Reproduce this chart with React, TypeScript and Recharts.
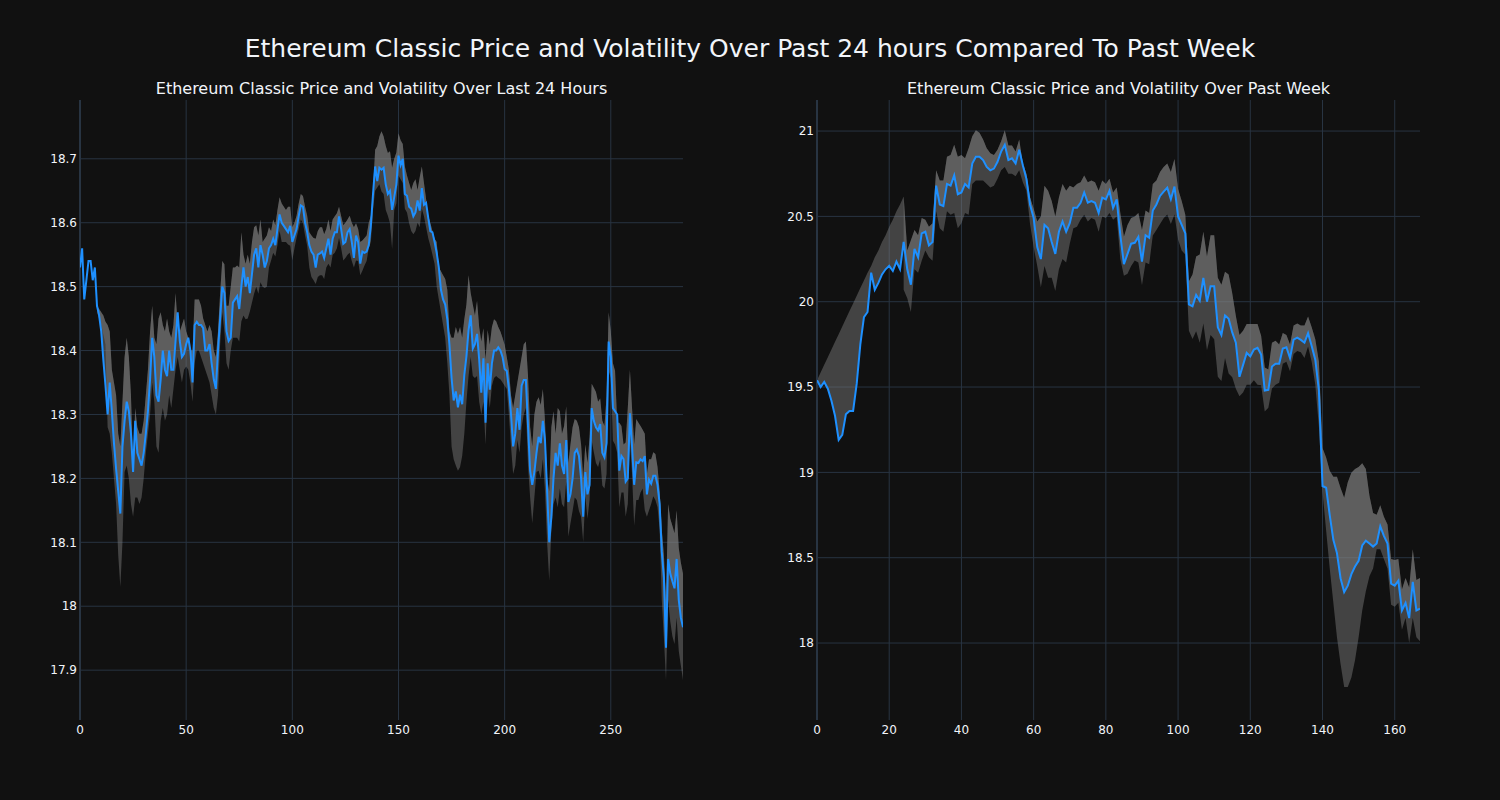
import { Area, CartesianGrid, ComposedChart, Line, ReferenceLine, XAxis, YAxis } from "recharts";

// last 24 hours, one point every 5 minutes
const dayPrice = [
  18.53, 18.56, 18.48, 18.51, 18.54, 18.54, 18.51, 18.53, 18.47, 18.455,
  18.43, 18.385, 18.345, 18.3, 18.35, 18.305, 18.255, 18.215, 18.18, 18.145,
  18.25, 18.29, 18.32, 18.305, 18.27, 18.21, 18.29, 18.24, 18.23, 18.22,
  18.24, 18.27, 18.305, 18.355, 18.42, 18.39, 18.33, 18.32, 18.355, 18.4,
  18.37, 18.36, 18.4, 18.37, 18.37, 18.415, 18.46, 18.415, 18.39, 18.395,
  18.41, 18.42, 18.4, 18.35, 18.44, 18.445, 18.44, 18.44, 18.435, 18.4,
  18.4, 18.41, 18.38, 18.355, 18.34, 18.4, 18.45, 18.5, 18.49, 18.43,
  18.415, 18.42, 18.475, 18.48, 18.485, 18.465, 18.5, 18.53, 18.5, 18.515,
  18.49, 18.52, 18.55, 18.56, 18.53, 18.565, 18.55, 18.53, 18.54, 18.56,
  18.565, 18.575, 18.565, 18.59, 18.613, 18.6, 18.595, 18.59, 18.585, 18.595,
  18.57, 18.58, 18.59, 18.61, 18.627, 18.625, 18.6, 18.585, 18.565, 18.555,
  18.55, 18.53, 18.55, 18.552, 18.555, 18.545, 18.56, 18.575, 18.55, 18.575,
  18.585, 18.585, 18.61, 18.59, 18.567, 18.57, 18.585, 18.59, 18.57, 18.545,
  18.58, 18.57, 18.536, 18.555, 18.553, 18.555, 18.565, 18.596, 18.645, 18.688,
  18.665, 18.686, 18.683, 18.686, 18.66, 18.645, 18.65, 18.62, 18.64, 18.66,
  18.705, 18.69, 18.7, 18.645, 18.642, 18.625, 18.622, 18.61, 18.616, 18.635,
  18.619, 18.654, 18.628, 18.631, 18.608, 18.587, 18.585, 18.57, 18.553, 18.53,
  18.495, 18.48, 18.472, 18.449, 18.409, 18.357, 18.322, 18.336, 18.311, 18.331,
  18.316, 18.362, 18.391, 18.432, 18.455, 18.403, 18.41, 18.426, 18.386, 18.334,
  18.388, 18.287, 18.38, 18.339, 18.38, 18.4, 18.4, 18.405, 18.4, 18.39,
  18.371, 18.368, 18.34, 18.3, 18.25, 18.27, 18.31, 18.276, 18.345, 18.354,
  18.354, 18.282, 18.212, 18.19, 18.21, 18.24, 18.265, 18.255, 18.29, 18.26,
  18.18, 18.1, 18.14, 18.2, 18.24, 18.22, 18.255, 18.22, 18.207, 18.26,
  18.163, 18.175, 18.2, 18.24, 18.245, 18.235, 18.2, 18.14, 18.21, 18.175,
  18.19, 18.31, 18.29, 18.28, 18.275, 18.285, 18.24, 18.233, 18.255, 18.414,
  18.39, 18.31, 18.305, 18.3, 18.212, 18.235, 18.23, 18.195, 18.2, 18.302,
  18.25, 18.19, 18.225, 18.224, 18.23, 18.227, 18.235, 18.175, 18.198, 18.192,
  18.204, 18.204, 18.19, 18.16, 18.085, 18.045, 17.935, 18.074, 18.051, 18.039,
  18.028, 18.074, 18.01, 17.982, 17.967,
];

// volatility band, first value at index DAY_BAND_START
const DAY_BAND_START = 8;
const dayUpper = [
  18.47, 18.465,
  18.46, 18.455, 18.445, 18.44, 18.43, 18.37, 18.35, 18.33, 18.27, 18.25,
  18.32, 18.39, 18.42, 18.39, 18.33, 18.22, 18.31, 18.28, 18.27, 18.27,
  18.29, 18.33, 18.37, 18.43, 18.47, 18.42, 18.41, 18.45, 18.46, 18.44,
  18.43, 18.45, 18.43, 18.42, 18.44, 18.49, 18.44, 18.43, 18.44, 18.45,
  18.43, 18.42, 18.4, 18.4, 18.48, 18.48, 18.48, 18.47, 18.45, 18.44,
  18.43, 18.44, 18.43, 18.4, 18.39, 18.43, 18.49, 18.54, 18.535, 18.47,
  18.47, 18.5, 18.53, 18.53, 18.533, 18.53, 18.585, 18.55, 18.536, 18.55,
  18.536, 18.57, 18.593, 18.596, 18.58, 18.605, 18.57, 18.575, 18.58, 18.593,
  18.587, 18.605, 18.596, 18.62, 18.64, 18.63, 18.625, 18.62, 18.625, 18.625,
  18.593, 18.6, 18.611, 18.63, 18.645, 18.642, 18.625, 18.611, 18.585, 18.58,
  18.576, 18.575, 18.587, 18.593, 18.593, 18.582, 18.59, 18.605, 18.587, 18.605,
  18.61, 18.615, 18.625, 18.61, 18.596, 18.6, 18.605, 18.611, 18.6, 18.593,
  18.599, 18.59, 18.57, 18.572, 18.576, 18.58, 18.6, 18.611, 18.65, 18.714,
  18.72, 18.735, 18.743, 18.735, 18.72, 18.709, 18.712, 18.686, 18.7, 18.71,
  18.74, 18.729, 18.723, 18.688, 18.674, 18.662, 18.651, 18.662, 18.668, 18.651,
  18.671, 18.688, 18.662, 18.637, 18.611, 18.599, 18.587, 18.575, 18.57, 18.53,
  18.524, 18.518, 18.512, 18.495, 18.43, 18.42, 18.42, 18.437, 18.426, 18.437,
  18.42, 18.449, 18.472, 18.518, 18.49, 18.472, 18.455, 18.478, 18.437, 18.414,
  18.435, 18.386, 18.432, 18.409, 18.437, 18.449, 18.446, 18.437, 18.43, 18.42,
  18.409, 18.39, 18.37, 18.33, 18.31, 18.33, 18.35, 18.37, 18.39, 18.41,
  18.414, 18.36, 18.28, 18.25, 18.3, 18.32, 18.327, 18.315, 18.34, 18.29,
  18.2, 18.18, 18.28, 18.305, 18.27, 18.31, 18.305, 18.27, 18.282, 18.313,
  18.224, 18.253, 18.28, 18.293, 18.29, 18.28, 18.253, 18.2, 18.253, 18.224,
  18.264, 18.348, 18.342, 18.335, 18.32, 18.325, 18.29, 18.282, 18.328, 18.46,
  18.43, 18.38, 18.368, 18.287, 18.287, 18.282, 18.253, 18.256, 18.31, 18.37,
  18.31, 18.253, 18.293, 18.287, 18.282, 18.276, 18.27, 18.207, 18.23, 18.23,
  18.241, 18.238, 18.218, 18.18, 18.12, 18.08, 18.01, 18.16, 18.137, 18.126,
  18.114, 18.15, 18.091, 18.068, 18.051,
];
const dayLower = [
  18.46, 18.45,
  18.44, 18.425, 18.41, 18.28, 18.27, 18.24, 18.2, 18.16, 18.08, 18.03,
  18.1, 18.21, 18.22, 18.2, 18.16, 18.14, 18.17, 18.17, 18.16, 18.17,
  18.2, 18.24, 18.27, 18.3, 18.35, 18.32, 18.25, 18.24, 18.29, 18.31,
  18.29, 18.3, 18.33, 18.31, 18.34, 18.37, 18.39, 18.37, 18.35, 18.37,
  18.375, 18.37, 18.35, 18.32, 18.38, 18.4, 18.4, 18.39, 18.38, 18.37,
  18.36, 18.35, 18.33, 18.31, 18.3, 18.33, 18.41, 18.46, 18.43, 18.38,
  18.37, 18.4, 18.42, 18.42, 18.42, 18.414, 18.446, 18.455, 18.449, 18.45,
  18.461, 18.475, 18.489, 18.5, 18.489, 18.507, 18.5, 18.498, 18.5, 18.53,
  18.541, 18.553, 18.547, 18.565, 18.587, 18.57, 18.57, 18.57, 18.566, 18.564,
  18.541, 18.56, 18.576, 18.59, 18.605, 18.599, 18.58, 18.564, 18.53, 18.515,
  18.51, 18.504, 18.515, 18.518, 18.518, 18.512, 18.53, 18.536, 18.53, 18.55,
  18.553, 18.56, 18.576, 18.56, 18.541, 18.545, 18.55, 18.553, 18.54, 18.53,
  18.541, 18.54, 18.518, 18.525, 18.533, 18.54, 18.56, 18.57, 18.62, 18.65,
  18.655, 18.66, 18.649, 18.645, 18.62, 18.611, 18.599, 18.559, 18.62, 18.63,
  18.674, 18.668, 18.662, 18.622, 18.616, 18.599, 18.587, 18.582, 18.587, 18.6,
  18.593, 18.622, 18.61, 18.593, 18.576, 18.564, 18.55, 18.536, 18.5, 18.48,
  18.46, 18.44, 18.42, 18.38, 18.33, 18.25, 18.23, 18.22, 18.212, 18.218,
  18.235, 18.27, 18.32, 18.36, 18.39, 18.36, 18.357, 18.36, 18.32, 18.3,
  18.32, 18.253, 18.34, 18.31, 18.345, 18.357, 18.36, 18.357, 18.355, 18.35,
  18.345, 18.34, 18.3, 18.25, 18.207, 18.22, 18.26, 18.24, 18.28, 18.3,
  18.31, 18.22, 18.17, 18.13, 18.17, 18.21, 18.212, 18.2, 18.23, 18.18,
  18.1, 18.04, 18.12, 18.16, 18.17, 18.155, 18.184, 18.16, 18.155, 18.195,
  18.109, 18.13, 18.149, 18.17, 18.166, 18.149, 18.14, 18.1, 18.172, 18.137,
  18.166, 18.259, 18.241, 18.224, 18.218, 18.23, 18.189, 18.184, 18.207, 18.368,
  18.357, 18.259, 18.253, 18.24, 18.155, 18.178, 18.178, 18.14, 18.16, 18.259,
  18.207, 18.126, 18.166, 18.166, 18.178, 18.184, 18.15, 18.14, 18.15, 18.16,
  18.172, 18.166, 18.155, 18.12, 18.01, 17.95, 17.884, 18.01, 17.976, 17.953,
  17.941, 17.982, 17.93, 17.907, 17.884,
];

// past week, hourly
const weekPrice = [
  19.54, 19.5, 19.53, 19.49, 19.42, 19.33, 19.19, 19.22, 19.34, 19.36,
  19.36, 19.52, 19.75, 19.91, 19.94, 20.17, 20.07, 20.11, 20.16, 20.19,
  20.21, 20.18, 20.235, 20.19, 20.35, 20.19, 20.1, 20.31, 20.26, 20.4,
  20.41, 20.33, 20.35, 20.68, 20.57, 20.56, 20.69, 20.68, 20.74, 20.63,
  20.64, 20.69, 20.67, 20.81, 20.85, 20.85, 20.83, 20.79, 20.77, 20.78,
  20.82, 20.88, 20.92, 20.83, 20.84, 20.81, 20.89, 20.8, 20.72, 20.57,
  20.49, 20.32, 20.25, 20.45, 20.43, 20.35, 20.28, 20.41, 20.47, 20.41,
  20.46, 20.55, 20.55, 20.58, 20.64, 20.58, 20.59, 20.58, 20.52, 20.61,
  20.6, 20.65, 20.55, 20.6, 20.39, 20.22, 20.28, 20.34, 20.345, 20.38,
  20.235, 20.39, 20.375, 20.534, 20.57, 20.62, 20.645, 20.668, 20.6, 20.675,
  20.5, 20.45, 20.4, 19.985, 19.973, 20.04, 20.006, 20.14, 20.0, 20.09,
  20.09, 19.85, 19.805, 19.92, 19.9, 19.82, 19.76, 19.56, 19.63, 19.7,
  19.68, 19.72, 19.73, 19.69, 19.48, 19.484, 19.62, 19.637, 19.637, 19.726,
  19.733, 19.67, 19.778, 19.789, 19.776, 19.76, 19.816, 19.74, 19.66, 19.48,
  18.92, 18.91, 18.75, 18.605, 18.527, 18.38, 18.298, 18.336, 18.404, 18.448,
  18.482, 18.572, 18.6, 18.583, 18.565, 18.583, 18.684, 18.628, 18.583, 18.348,
  18.336, 18.365, 18.191, 18.235, 18.146, 18.359, 18.191, 18.202,
];

// top edge of the shading before the weekly band starts
const weekWarmupEdge = [
  19.54, 19.585, 19.63, 19.675, 19.72, 19.765, 19.81, 19.855, 19.9, 19.945,
  19.99, 20.035, 20.08, 20.125, 20.17, 20.21, 20.26, 20.3, 20.35, 20.39,
  20.44, 20.48, 20.53, 20.57,
];

const WEEK_BAND_START = 24;
const weekUpper = [
  20.617, 20.3, 20.36, 20.42, 20.39, 20.49,
  20.48, 20.44, 20.46, 20.77, 20.71, 20.71, 20.85, 20.86, 20.92, 20.85,
  20.86, 20.84, 20.9, 20.97, 21.005, 20.99, 20.95, 20.9, 20.87, 20.86,
  20.89, 20.94, 21.005, 20.915, 20.915, 20.88, 20.95, 20.81, 20.75, 20.61,
  20.545, 20.47, 20.5, 20.68, 20.65, 20.59, 20.5, 20.61, 20.69, 20.65,
  20.68, 20.67, 20.69, 20.7, 20.74, 20.7, 20.71, 20.7, 20.65, 20.71,
  20.69, 20.72, 20.64, 20.67, 20.52, 20.38, 20.45, 20.49, 20.5, 20.52,
  20.42, 20.534, 20.52, 20.69, 20.71, 20.76, 20.79, 20.81, 20.76, 20.836,
  20.66, 20.59, 20.51, 20.12, 20.16, 20.265, 20.276, 20.41, 20.265, 20.39,
  20.39, 20.14, 20.1, 20.175, 20.16, 20.05, 19.917, 19.805, 19.83, 19.87,
  19.87, 19.87, 19.87, 19.8, 19.614, 19.603, 19.76, 19.771, 19.749, 19.816,
  19.805, 19.749, 19.861, 19.872, 19.861, 19.861, 19.913, 19.85, 19.78, 19.648,
  19.143, 19.087, 19.009, 18.975, 18.975, 18.908, 18.852, 18.942, 18.998, 19.02,
  19.031, 19.054, 19.02, 18.863, 18.762, 18.751, 18.807, 18.74, 18.695, 18.493,
  18.487, 18.493, 18.314, 18.381, 18.325, 18.549, 18.37, 18.381,
];
const weekLower = [
  20.07, 20.02, 19.94, 20.19, 20.17, 20.24,
  20.3, 20.26, 20.24, 20.53, 20.43, 20.41, 20.53, 20.51, 20.52, 20.43,
  20.46, 20.52, 20.51, 20.69, 20.71, 20.71, 20.71, 20.69, 20.67, 20.68,
  20.72, 20.77, 20.79, 20.75, 20.75, 20.735, 20.77, 20.7, 20.65, 20.455,
  20.32, 20.21, 20.085, 20.21, 20.14, 20.14, 20.063, 20.19, 20.25, 20.23,
  20.34, 20.43, 20.44, 20.48, 20.51, 20.47, 20.49, 20.48, 20.41, 20.5,
  20.49, 20.52, 20.48, 20.5, 20.25, 20.152, 20.164, 20.209, 20.242, 20.23,
  20.096, 20.23, 20.22, 20.388, 20.42, 20.455, 20.489, 20.511, 20.455, 20.511,
  20.365, 20.3, 20.276, 19.83, 19.782, 19.827, 19.76, 19.872, 19.715, 19.805,
  19.78, 19.56, 19.536, 19.67, 19.58, 19.558, 19.49, 19.446, 19.468, 19.513,
  19.513, 19.54, 19.513, 19.51, 19.357, 19.379, 19.491, 19.513, 19.525, 19.637,
  19.648, 19.592, 19.693, 19.711, 19.704, 19.67, 19.738, 19.648, 19.513, 19.267,
  18.886, 18.661, 18.437, 18.236, 18.034, 17.877, 17.742, 17.742, 17.798, 17.899,
  18.034, 18.191, 18.303, 18.392, 18.437, 18.549, 18.549, 18.493, 18.437, 18.224,
  18.213, 18.236, 18.078, 18.146, 18.0, 18.146, 18.034, 18.011,
];

const dayXTicks = [0, 50, 100, 150, 200, 250];
const dayYTicks = [17.9, 18, 18.1, 18.2, 18.3, 18.4, 18.5, 18.6, 18.7];
const weekXTicks = [0, 20, 40, 60, 80, 100, 120, 140, 160];
const weekYTicks = [18, 18.5, 19, 19.5, 20, 20.5, 21];

type Row = { i: number; price: number; upperFill: number[] | null; band: number[] | null };

const dayRows: Row[] = dayPrice.map((price, i) => {
  const k = i - DAY_BAND_START;
  const hi = k >= 0 ? dayUpper[k] : null;
  const lo = k >= 0 ? dayLower[k] : null;
  return {
    i,
    price,
    upperFill: hi != null ? [price, hi] : null,
    band: hi != null && lo != null ? [lo, hi] : null,
  };
});

const weekRows: Row[] = weekPrice.map((price, i) => {
  const k = i - WEEK_BAND_START;
  const hi = k >= 0 ? weekUpper[k] : null;
  const lo = k >= 0 ? weekLower[k] : null;
  const top = hi ?? weekWarmupEdge[i];
  return {
    i,
    price,
    upperFill: [price, top],
    band: hi != null && lo != null ? [lo, hi] : null,
  };
});

const FONT = "'DejaVu Sans', sans-serif";
const TEXT = "#f2f5fa";
const GRID = "#283442";
const tick = { fontSize: 12, fill: TEXT, fontFamily: FONT };
const fmt = (v: number) => String(Number(v.toFixed(2)));

function Panel({
  rows,
  xMax,
  xTicks,
  yDomain,
  yTicks,
  margin,
}: {
  rows: Row[];
  xMax: number;
  xTicks: number[];
  yDomain: [number, number];
  yTicks: number[];
  margin: { top: number; right: number; bottom: number; left: number };
}) {
  const [yMin, yMax] = yDomain;
  // grid lines only at the tick values (no frame round the plot)
  const hLines = ({ offset }: any) =>
    yTicks.map((t) => offset.top + ((yMax - t) / (yMax - yMin)) * offset.height);
  const vLines = ({ offset }: any) =>
    xTicks.map((t) => offset.left + (t / xMax) * offset.width);

  return (
    <ComposedChart width={750} height={800} data={rows} margin={margin}>
      <CartesianGrid
        stroke={GRID}
        strokeWidth={1}
        horizontalCoordinatesGenerator={hLines}
        verticalCoordinatesGenerator={vLines}
      />
      <XAxis
        dataKey="i"
        type="number"
        domain={[0, xMax]}
        ticks={xTicks}
        allowDataOverflow
        axisLine={false}
        tickLine={false}
        tickSize={0}
        tickMargin={5}
        height={30}
        tick={tick}
      />
      <YAxis
        type="number"
        domain={yDomain}
        ticks={yTicks}
        allowDataOverflow
        axisLine={false}
        tickLine={false}
        tickSize={0}
        tickMargin={3}
        width={50}
        tick={tick}
        tickFormatter={fmt}
      />
      <ReferenceLine x={0} stroke={GRID} strokeWidth={2} />
      <Area
        type="linear"
        dataKey="band"
        stroke="none"
        fill="#808080"
        fillOpacity={0.45}
        activeDot={false}
        isAnimationActive={false}
      />
      <Area
        type="linear"
        dataKey="upperFill"
        stroke="none"
        fill="#808080"
        fillOpacity={0.45}
        activeDot={false}
        isAnimationActive={false}
      />
      <Line
        type="linear"
        dataKey="price"
        stroke="#1e90ff"
        strokeWidth={2}
        dot={false}
        activeDot={false}
        isAnimationActive={false}
      />
    </ComposedChart>
  );
}

export default function App() {
  return (
    <div
      style={{
        position: "absolute",
        left: 0,
        top: 0,
        width: 1500,
        height: 800,
        background: "#111111",
        fontFamily: FONT,
        color: TEXT,
        overflow: "hidden",
      }}
    >
      <div style={{ position: "absolute", left: 0, top: 0 }}>
        <Panel
          rows={dayRows}
          xMax={284}
          xTicks={dayXTicks}
          yDomain={[17.822, 18.792]}
          yTicks={dayYTicks}
          margin={{ top: 100, right: 67, bottom: 50, left: 30 }}
        />
      </div>
      <div style={{ position: "absolute", left: 750, top: 0 }}>
        <Panel
          rows={weekRows}
          xMax={167}
          xTicks={weekXTicks}
          yDomain={[17.549, 21.182]}
          yTicks={weekYTicks}
          margin={{ top: 100, right: 80, bottom: 50, left: 17 }}
        />
      </div>
      <div
        style={{
          position: "absolute",
          left: 0,
          width: 1500,
          top: 36,
          fontSize: 25,
          lineHeight: "25px",
          textAlign: "center",
          whiteSpace: "nowrap",
        }}
      >
        Ethereum Classic Price and Volatility Over Past 24 hours Compared To Past Week
      </div>
      <div
        style={{
          position: "absolute",
          left: 81.5,
          width: 600,
          top: 81,
          fontSize: 16,
          lineHeight: "16px",
          textAlign: "center",
          whiteSpace: "nowrap",
        }}
      >
        Ethereum Classic Price and Volatility Over Last 24 Hours
      </div>
      <div
        style={{
          position: "absolute",
          left: 818.5,
          width: 600,
          top: 81,
          fontSize: 16,
          lineHeight: "16px",
          textAlign: "center",
          whiteSpace: "nowrap",
        }}
      >
        Ethereum Classic Price and Volatility Over Past Week
      </div>
    </div>
  );
}
